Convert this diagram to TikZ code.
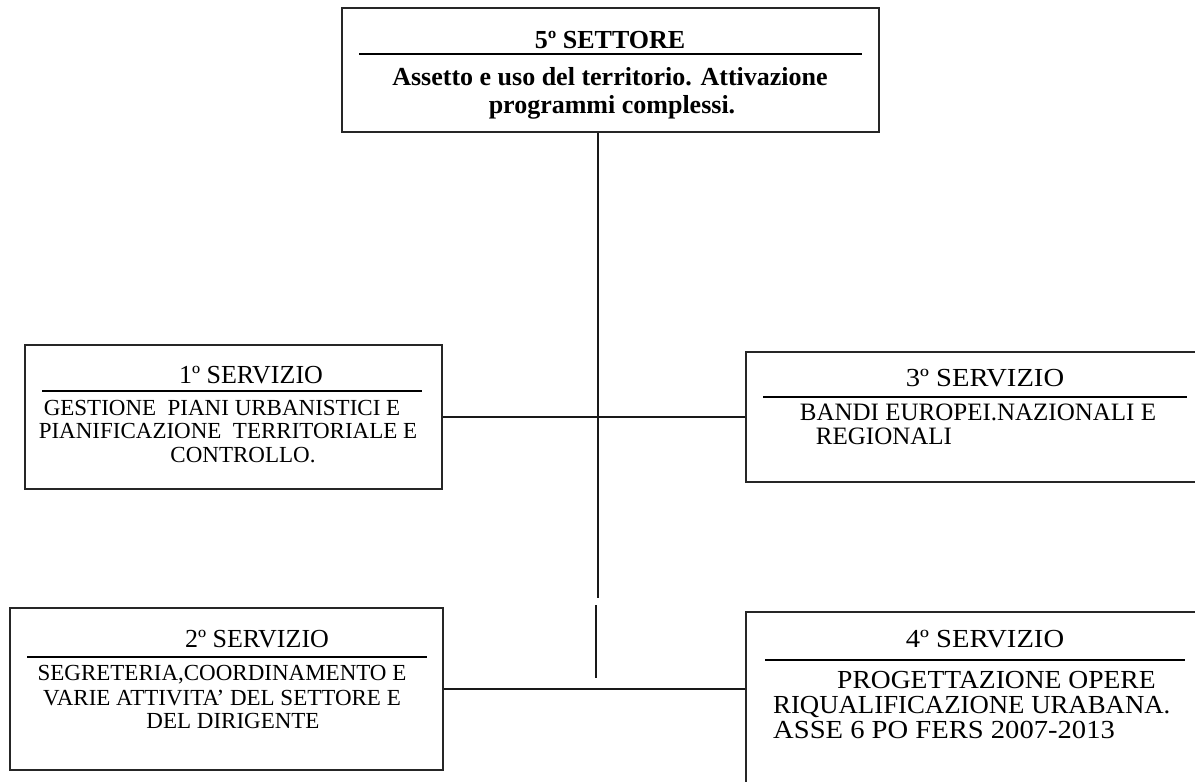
\documentclass[tikz,border=0pt]{standalone}
\usepackage{fontspec}
\usepackage{graphicx}
\setmainfont{Liberation Serif}
\newcommand{\wideby}[2]{\scalebox{#1}[1]{#2}}
\begin{document}
\begin{tikzpicture}[x=1pt,y=-1pt,
  box/.style={draw=black!85, line width=1.2pt, rectangle, inner sep=0pt},
  rulebar/.style={line width=2pt, black},
  link/.style={line width=1.4pt, black!90},
  hdb/.style={inner sep=0pt, anchor=base, font=\fontsize{26}{30}\selectfont\bfseries},
  hd/.style={inner sep=0pt, anchor=base, font=\fontsize{26}{30}\selectfont},
  bd/.style={inner sep=0pt, anchor=base, font=\fontsize{23}{27}\selectfont},
  bdr/.style={inner sep=0pt, anchor=base, font=\fontsize{25}{29}\selectfont},
  bdl/.style={inner sep=0pt, anchor=base west, font=\fontsize{26}{30}\selectfont}]
\useasboundingbox (0,0) rectangle (1195,782);
\clip (0,0) rectangle (1195,782);
\fill[white] (0,0) rectangle (1195,782);

% boxes
\node[box, minimum width=537pt, minimum height=124pt] (settore) at (610.5,70) {};
\node[box, minimum width=417pt, minimum height=144pt] (s1) at (233.5,417) {};
\node[box, minimum width=433pt, minimum height=162pt] (s2) at (226.5,689) {};
\node[box, minimum width=459pt, minimum height=130pt] (s3) at (975.5,417) {};
\node[box, minimum width=459pt, minimum height=188pt] (s4) at (975.5,706) {};

% top box text
\node[hdb] (t0) at (610,48) {5º SETTORE};
\draw[rulebar] (359,54) -- (862,54);
\node[hdb] (t0a) at (610,85) {Assetto e uso del territorio. Attivazione};
\node[hdb] (t0b) at (612,113) {programmi complessi.};

% 1 servizio
\node[hd] (t1) at (251,383) {1º SERVIZIO};
\draw[rulebar] (42,391) -- (422,391);
\node[bd] (t1a) at (222,415) {GESTIONE\ \ PIANI URBANISTICI E};
\node[bd] (t1b) at (228,438) {PIANIFICAZIONE\ \ TERRITORIALE E};
\node[bd] (t1c) at (243,462) {CONTROLLO.};

% 2 servizio
\node[hd] (t2) at (257,647) {2º SERVIZIO};
\draw[rulebar] (27,657) -- (427,657);
\node[bd] (t2a) at (222,680) {SEGRETERIA,COORDINAMENTO E};
\node[bd] (t2b) at (222,705) {VARIE ATTIVITA’ DEL SETTORE E};
\node[bd] (t2c) at (233,728) {DEL DIRIGENTE};

% 3 servizio
\node[hd] (t3) at (985,386) {\wideby{1.1}{3º SERVIZIO}};
\draw[rulebar] (763,397) -- (1187,397);
\node[bdr] (t3a) at (978,420) {BANDI EUROPEI.NAZIONALI E};
\node[bdr] (t3b) at (884,444) {REGIONALI};

% 4 servizio
\node[hd] (t4) at (985,647) {\wideby{1.1}{4º SERVIZIO}};
\draw[rulebar] (765,660) -- (1185,660);
\node[bdl] (t4a) at (837,688) {\wideby{1.06}{PROGETTAZIONE OPERE}};
\node[bdl] (t4b) at (773,713) {\wideby{1.03}{RIQUALIFICAZIONE URABANA.}};
\node[bdl] (t4c) at (773,738) {\wideby{1.1}{ASSE 6 PO FERS 2007-2013}};

% connectors
\coordinate (v1) at (598,598);
\coordinate (v2) at (596,605);
\coordinate (v3) at (596,678);
\draw[link] (settore.south -| v1) -- (v1);
\draw[link] (v2) -- (v3);
\draw[link] (s1.east) -- (s1.east -| s3.west);
\draw[link] (s2.east) -- (s2.east -| s4.west);
\end{tikzpicture}
\end{document}
